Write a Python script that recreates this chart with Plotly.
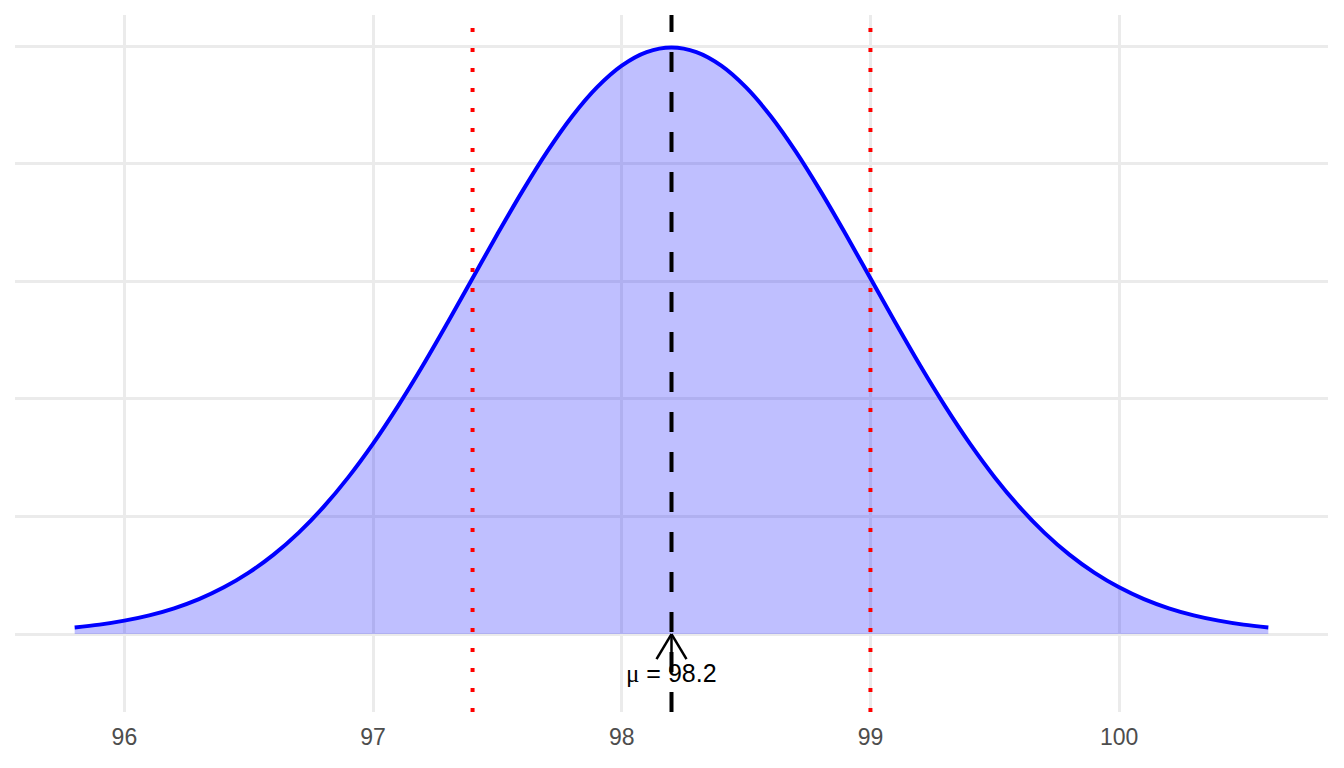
import plotly.graph_objects as go

# Values
mu = 98.2
sd_low = 97.4
sd_high = 99.0
temps = [95.8, 95.9, 96.0, 96.1, 96.2, 96.3, 96.4, 96.5, 96.6, 96.7, 96.8, 96.9,
         97.0, 97.1, 97.2, 97.3, 97.4, 97.5, 97.6, 97.7, 97.8, 97.9, 98.0, 98.1,
         98.2, 98.3, 98.4, 98.5, 98.6, 98.7, 98.8, 98.9, 99.0, 99.1, 99.2, 99.3,
         99.4, 99.5, 99.6, 99.7, 99.8, 99.9, 100.0, 100.1, 100.2, 100.3, 100.4,
         100.5, 100.6]
density = [0.0055, 0.0080, 0.0114, 0.0159, 0.0219, 0.0297, 0.0397, 0.0522, 0.0675,
           0.0860, 0.1079, 0.1332, 0.1619, 0.1938, 0.2283, 0.2649, 0.3025, 0.3401,
           0.3764, 0.4102, 0.4401, 0.4648, 0.4833, 0.4948, 0.4987, 0.4948, 0.4833,
           0.4648, 0.4401, 0.4102, 0.3764, 0.3401, 0.3025, 0.2649, 0.2283, 0.1938,
           0.1619, 0.1332, 0.1079, 0.0860, 0.0675, 0.0522, 0.0397, 0.0297, 0.0219,
           0.0159, 0.0114, 0.0080, 0.0055]
x_ticks = [96, 97, 98, 99, 100]
y_grid = [0.0, 0.1, 0.2, 0.3, 0.4, 0.5]
label_text = "<span style='font-family:Liberation Serif'>μ</span> = 98.2"
label_y = -0.033

fig = go.Figure()
fig.add_trace(go.Scatter(
    x=temps, y=density, mode="lines", fill="tozeroy",
    fillcolor="rgba(0,0,255,0.25)",
    line=dict(color="#0000FF", width=4, shape="spline", smoothing=1.0),
    hoverinfo="skip", showlegend=False,
))

# vertical reference lines
fig.add_shape(type="line", xref="x", yref="paper", x0=mu, x1=mu, y0=0, y1=1,
              line=dict(color="black", width=4, dash="20px,20px"))
for v in (sd_low, sd_high):
    fig.add_shape(type="line", xref="x", yref="paper", x0=v, x1=v, y0=0, y1=1,
                  line=dict(color="#FF0000", width=4, dash="4px,16px"))

# arrow: shaft and open head
fig.add_shape(type="line", xref="x", yref="y", x0=mu, x1=mu, y0=label_y, y1=0,
              line=dict(color="black", width=2.5))
for dx in (-15, 15):
    fig.add_shape(type="line", xref="x", yref="y",
                  xsizemode="pixel", xanchor=mu, x0=0, x1=dx,
                  ysizemode="pixel", yanchor=0, y0=0, y1=-25,
                  line=dict(color="black", width=2.5))

fig.add_annotation(x=mu, y=label_y, xref="x", yref="y", text=label_text,
                   showarrow=False, font=dict(family="Liberation Sans", size=25, color="black"))

fig.update_layout(
    width=1344, height=768,
    margin=dict(l=15, r=16, t=15, b=56),
    paper_bgcolor="white", plot_bgcolor="white",
    font=dict(family="Liberation Sans"),
    xaxis=dict(range=[95.56, 100.84], tickvals=x_ticks, ticktext=[str(t) for t in x_ticks],
               showgrid=True, gridcolor="#EBEBEB", gridwidth=2.5, zeroline=False,
               showline=False, ticks="", ticklabelstandoff=9,
               tickfont=dict(size=23, color="#4D4D4D")),
    yaxis=dict(range=[-0.0663, 0.5264], tickvals=y_grid, showticklabels=False,
               showgrid=True, gridcolor="#EBEBEB", gridwidth=2.5, zeroline=False,
               showline=False, ticks=""),
)

fig.write_html("out.html", config={"displayModeBar": False},
               post_script="document.body.style.margin='0';document.body.style.overflow='hidden';")
